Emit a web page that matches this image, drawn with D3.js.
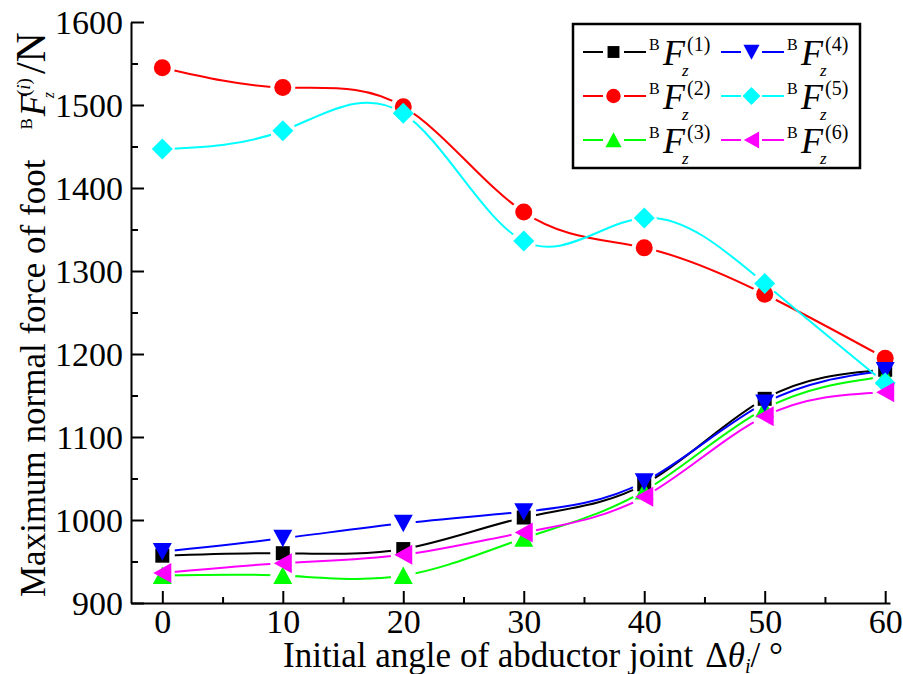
<!DOCTYPE html>
<html>
<head>
<meta charset="utf-8">
<script src="https://cdn.jsdelivr.net/npm/d3@7/dist/d3.min.js"></script>
<style>
  html, body { margin: 0; padding: 0; background: #fff; }
  svg { display: block; }
  text { font-family: "Liberation Serif", "Times New Roman", Times, "DejaVu Serif", serif; fill: #000; }
</style>
</head>
<body>
<svg id="chart" width="903" height="674"></svg>
<script>
// Initial abductor joint angle (deg)
const angles = [0, 10, 20, 30, 40, 50, 60];
// Maximum normal force on each foot (N)
const f1 = [957, 960, 965, 1003, 1043, 1146, 1181];
const f2 = [1545, 1521, 1498, 1371, 1328, 1272, 1195];
const f3 = [933, 933, 933, 978, 1035, 1134, 1173];
const f4 = [962, 978, 996, 1010, 1046, 1141, 1180];
const f5 = [1447, 1469, 1490, 1336, 1364, 1285, 1165];
const f6 = [936, 948, 958, 985, 1028, 1125, 1154];

const xMajorTicks = [0, 10, 20, 30, 40, 50, 60];
const xMinorTicks = [5, 15, 25, 35, 45, 55];
const yMajorTicks = [900, 1000, 1100, 1200, 1300, 1400, 1500, 1600];
const yMinorTicks = [950, 1050, 1150, 1250, 1350, 1450, 1550];

const seriesIndex = ["1", "2", "3", "4", "5", "6"];
const seriesValues = [f1, f2, f3, f4, f5, f6];
const seriesColors = ["#000000", "#ff0000", "#00ff00", "#0000ff", "#00ffff", "#ff00ff"];
const seriesShapes = ["square", "circle", "triangleUp", "triangleDown", "diamond", "triangleLeft"];

const FONT = "'Liberation Serif', 'Times New Roman', Times, 'DejaVu Serif', serif";

const svg = d3.select("#chart");
const x = d3.scaleLinear().domain([-2.6, 60.4]).range([131, 890]);
const y = d3.scaleLinear().domain([900, 1600]).range([603, 22]);

// marker outlines
function markerPath(shape) {
  const p = d3.path();
  switch (shape) {
    case "square": p.rect(-7, -7, 14, 14); break;
    case "circle": p.arc(0, 0, 8.5, 0, 2 * Math.PI); break;
    case "triangleUp": p.moveTo(0, -9); p.lineTo(9.5, 8.5); p.lineTo(-9.5, 8.5); p.closePath(); break;
    case "triangleDown": p.moveTo(-9.5, -8.5); p.lineTo(9.5, -8.5); p.lineTo(0, 9); p.closePath(); break;
    case "diamond": p.moveTo(0, -10.5); p.lineTo(10.5, 0); p.lineTo(0, 10.5); p.lineTo(-10.5, 0); p.closePath(); break;
    case "triangleLeft": p.moveTo(-9, 0); p.lineTo(9, -10); p.lineTo(9, 10); p.closePath(); break;
  }
  return p.toString();
}

// axes
const gx = svg.append("g").attr("transform", "translate(0,603)");
gx.call(d3.axisBottom(x).tickValues(xMajorTicks).tickSize(-12).tickSizeOuter(0).tickPadding(8).tickFormat(d3.format("d")));
const gxMinor = svg.append("g").attr("transform", "translate(0,603)");
gxMinor.call(d3.axisBottom(x).tickValues(xMinorTicks).tickSize(-6).tickSizeOuter(0).tickFormat(""));
gxMinor.select(".domain").remove();

const gy = svg.append("g").attr("transform", "translate(131,0)");
gy.call(d3.axisLeft(y).tickValues(yMajorTicks).tickSize(-13).tickSizeOuter(0).tickPadding(8).tickFormat(d3.format("d")));
const gyMinor = svg.append("g").attr("transform", "translate(131,0)");
gyMinor.call(d3.axisLeft(y).tickValues(yMinorTicks).tickSize(-7).tickSizeOuter(0).tickFormat(""));
gyMinor.select(".domain").remove();

svg.selectAll(".domain, .tick line").attr("stroke", "#000").attr("stroke-width", 2);
svg.selectAll("g").attr("font-family", FONT);
svg.selectAll(".tick text").attr("font-size", 34).attr("fill", "#000");
gx.selectAll(".tick text").attr("dy", "0.66em");
gy.selectAll(".tick text").attr("dy", "0.34em");

// per-series masks cut the line where it meets its own markers
const defs = svg.append("defs");
seriesValues.forEach((vals, i) => {
  const m = defs.append("mask").attr("id", "gap" + i)
    .attr("maskUnits", "userSpaceOnUse").attr("x", 0).attr("y", 0).attr("width", 903).attr("height", 674);
  m.append("rect").attr("width", 903).attr("height", 674).attr("fill", "#fff");
  m.selectAll("circle").data(angles).join("circle")
    .attr("cx", (a) => x(a)).attr("cy", (a, j) => y(vals[j])).attr("r", 12.5).attr("fill", "#000");
});

const line = d3.line().x((d) => x(d[0])).y((d) => y(d[1])).curve(d3.curveNatural);

seriesValues.forEach((vals, i) => {
  const pts = angles.map((a, j) => [a, vals[j]]);
  const g = svg.append("g").attr("class", "series s" + seriesIndex[i]);
  g.append("path").attr("d", line(pts)).attr("fill", "none")
    .attr("stroke", seriesColors[i]).attr("stroke-width", 2).attr("mask", "url(#gap" + i + ")");
  g.selectAll("path.mk").data(pts).join("path").attr("class", "mk")
    .attr("d", markerPath(seriesShapes[i]))
    .attr("transform", (d) => `translate(${x(d[0])},${y(d[1])})`)
    .attr("fill", seriesColors[i]);
});

// legend
const legend = svg.append("g").attr("class", "legend");
legend.append("rect").attr("x", 573).attr("y", 24).attr("width", 287).attr("height", 144)
  .attr("fill", "#fff").attr("stroke", "#000").attr("stroke-width", 2.5);

function forceLabel(g, x0, y0, idx) {
  g.append("text").attr("x", x0).attr("y", y0 - 2).attr("font-size", 16).text("B");
  g.append("text").attr("x", x0 + 14).attr("y", y0 + 13).attr("font-size", 36).attr("font-style", "italic").text("F");
  g.append("text").attr("x", x0 + 33).attr("y", y0 + 24).attr("font-size", 17).attr("font-style", "italic").text("z");
  g.append("text").attr("x", x0 + 38).attr("y", y0 - 1).attr("font-size", 20).text("(" + idx + ")");
}

seriesValues.forEach((vals, i) => {
  const col = Math.floor(i / 3), row = i % 3;
  const lx = 583 + col * 138;
  const ly = 52 + row * 44;
  const g = legend.append("g");
  g.append("line").attr("x1", lx).attr("x2", lx + 20).attr("y1", ly).attr("y2", ly)
    .attr("stroke", seriesColors[i]).attr("stroke-width", 2);
  g.append("line").attr("x1", lx + 41).attr("x2", lx + 63).attr("y1", ly).attr("y2", ly)
    .attr("stroke", seriesColors[i]).attr("stroke-width", 2);
  g.append("path").attr("d", markerPath(seriesShapes[i]))
    .attr("transform", `translate(${lx + 30.5},${ly}) scale(0.85)`).attr("fill", seriesColors[i]);
  forceLabel(g, lx + 66, ly, seriesIndex[i]);
});

// x axis title
const xt = svg.append("text").attr("x", 283).attr("y", 667).attr("font-size", 35);
xt.append("tspan").text("Initial angle of abductor joint");
xt.append("tspan").attr("dx", 12).text("\u0394");
xt.append("tspan").attr("font-style", "italic").text("\u03b8");
xt.append("tspan").attr("font-style", "italic").attr("font-size", 20).attr("dy", 6).text("i");
xt.append("tspan").attr("dy", -6).text("/ \u00b0");

// y axis title
const yt = svg.append("text").attr("transform", "translate(45,597) rotate(-90)").attr("font-size", 35);
yt.append("tspan").text("Maximum normal force of foot");
yt.append("tspan").attr("dx", 30).attr("dy", -13).attr("font-size", 17).text("B");
yt.append("tspan").attr("dx", 2).attr("dy", 13).attr("font-style", "italic").attr("font-size", 36).text("F");
yt.append("tspan").attr("dx", -4).attr("dy", 9).attr("font-style", "italic").attr("font-size", 16).text("z");
yt.append("tspan").attr("dx", -4).attr("dy", -24).attr("font-size", 19).text("(");
yt.append("tspan").attr("font-style", "italic").attr("font-size", 19).text("i");
yt.append("tspan").attr("font-size", 19).text(")");
yt.append("tspan").attr("dx", 4).attr("dy", 15).attr("font-size", 42).text("/N");
</script>
</body>
</html>
